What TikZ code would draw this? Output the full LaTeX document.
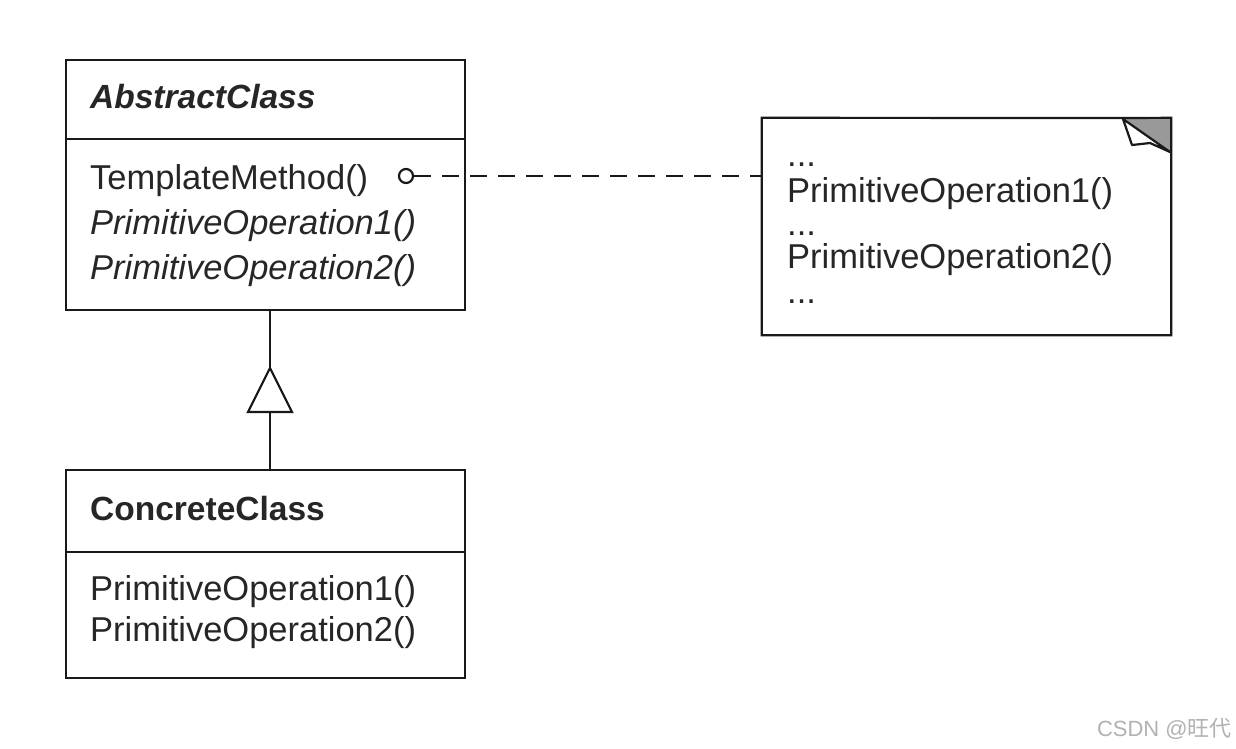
\documentclass[tikz,border=0pt]{standalone}
\usepackage{fontspec}
\setmainfont{Liberation Sans}
\newfontfamily\cjkfont{Noto Sans CJK SC}
\begin{document}
\begin{tikzpicture}[x=1pt,y=-1pt,
  umlline/.style={line width=2.2pt,draw=black!90},
  classbox/.style={umlline,rectangle,inner sep=0pt,fill=white},
  txt/.style={anchor=base west,inner sep=0pt,font=\fontsize{34.5}{40}\selectfont,text=black!85},
  dashconn/.style={line width=2.2pt,draw=black!90,dash pattern=on 17pt off 11pt}]
\useasboundingbox[fill=white] (0,0) rectangle (1236,748);

% AbstractClass
\node[classbox,minimum width=399pt,minimum height=250pt] (abs) at (265.5,185) {};
\draw[umlline] (abs.west |- 0,139) -- (abs.east |- 0,139);
\node[txt,font=\fontsize{33.5}{40}\selectfont\bfseries\itshape] (absname) at (90,108) {AbstractClass};
\node[txt] (tmeth) at (90,189) {TemplateMethod()};
\node[txt,font=\fontsize{34.5}{40}\selectfont\itshape] (aop1) at (90,234) {PrimitiveOperation1()};
\node[txt,font=\fontsize{34.5}{40}\selectfont\itshape] (aop2) at (90,279) {PrimitiveOperation2()};
\node[circle,draw=black!90,line width=2.2pt,minimum size=14pt,inner sep=0pt] (tm) at (406,176) {};

% Note
\node[inner sep=0pt,minimum width=409pt,minimum height=217pt] (note) at (966.5,226.5) {};
\fill[black!40] (1123,118) -- (1171,118) -- (1171,152) -- cycle;
\draw[umlline,line join=miter] (1123,118) -- (note.north west) -- (note.south west) -- (note.south east) -- (note.north east) -- (1123,118);
\draw[umlline,fill=white,line join=round] (1123,119) -- (1132,145) -- (1150,143) -- (1170,152) -- cycle;
\node[txt] (n1) at (787,166) {...};
\node[txt] (n2) at (787,202) {PrimitiveOperation1()};
\node[txt] (n3) at (787,235) {...};
\node[txt] (n4) at (787,268) {PrimitiveOperation2()};
\node[txt] (n5) at (787,303) {...};

\draw[dashconn] (tm.east) -- (note.west |- tm.east);

% ConcreteClass
\node[classbox,minimum width=399pt,minimum height=208pt] (con) at (265.5,574) {};
\draw[umlline] (con.west |- 0,552) -- (con.east |- 0,552);
\node[txt,font=\fontsize{33.5}{40}\selectfont\bfseries] (conname) at (90,520) {ConcreteClass};
\node[txt] (cop1) at (90,600) {PrimitiveOperation1()};
\node[txt] (cop2) at (90,641) {PrimitiveOperation2()};

% Generalization
\coordinate (apex) at (270,368);
\coordinate (base) at (270,412);
\draw[umlline] (abs.south -| apex) -- (apex);
\draw[umlline,fill=white,line join=miter] (apex) -- (248,412) -- (292,412) -- cycle;
\draw[umlline] (base) -- (con.north -| base);

% watermark
\node[anchor=base east,inner sep=0pt,text=black!30,font=\fontsize{22}{26}\selectfont] (wm) at (1232,736) {CSDN @{\cjkfont 旺代}};
\end{tikzpicture}
\end{document}
